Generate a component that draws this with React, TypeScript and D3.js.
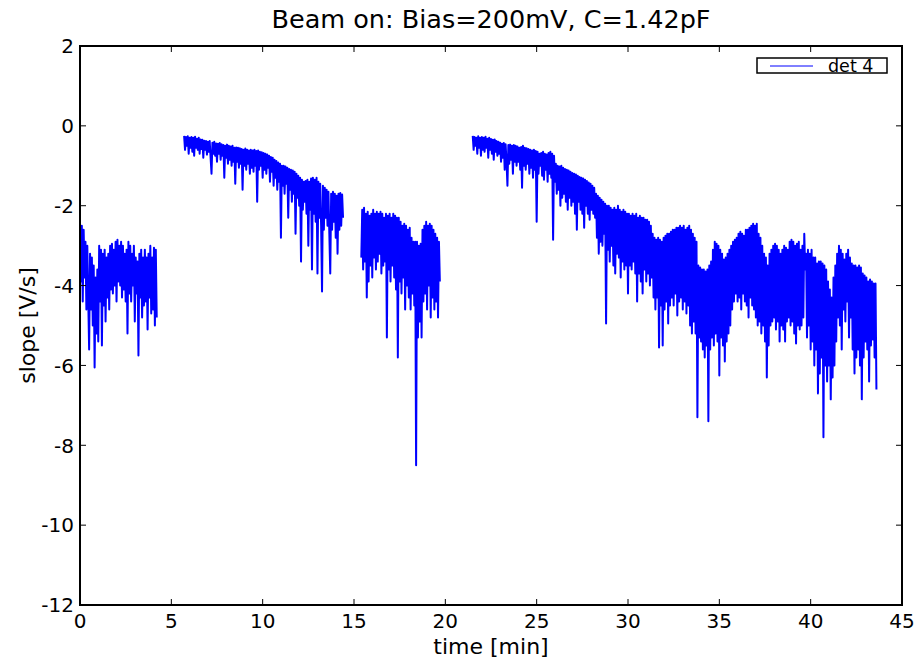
import React from "react";
import * as d3 from "d3";

const TITLE = "Beam on: Bias=200mV, C=1.42pF";
const X_LABEL = "time [min]";
const Y_LABEL = "slope [V/s]";
const LEGEND_LABEL = "det 4";
const X_TICKS = [0, 5, 10, 15, 20, 25, 30, 35, 40, 45];
const Y_TICKS = [-12, -10, -8, -6, -4, -2, 0, 2];
const SAMPLE_STEP = 0.05; // minutes between samples

// start time (min) of each recorded run
const SEG_STARTS = [0.0, 5.7, 15.4, 21.5];

const seg1Values = [
  -2.7, -3.9, -2.5, -4.4, -2.6, -3.8, -2.9, -4.6, -3.0, -4.3,
  -5.6, -3.2, -4.6, -3.3, -5.0, -3.5, -6.05, -3.8, -5.2, -3.6,
  -5.4, -3.0, -4.4, -3.1, -5.5, -3.2, -4.5, -3.1, -4.9, -3.3,
  -4.3, -3.2, -4.6, -3.0, -4.1, -2.95, -4.2, -3.1, -4.0, -2.9,
  -4.4, -2.85, -3.9, -3.0, -4.0, -2.9, -4.3, -3.0, -4.1, -3.2,
  -4.4, -3.1, -5.2, -2.9, -4.2, -3.0, -4.4, -3.2, -4.0, -3.0,
  -4.9, -3.3, -4.2, -3.4, -5.75, -3.2, -4.3, -3.1, -4.8, -3.3,
  -4.5, -3.1, -4.4, -3.3, -5.1, -3.2, -4.3, -3.0, -4.7, -3.3,
  -4.6, -3.05, -5.0, -3.1, -4.8,
];

const seg2Values = [
  -0.25, -0.6, -0.28, -0.5, -0.26, -0.7, -0.3, -0.55, -0.28, -0.65,
  -0.3, -0.75, -0.27, -0.55, -0.32, -0.6, -0.3, -0.7, -0.34, -0.58,
  -0.35, -0.8, -0.37, -0.6, -0.38, -0.72, -0.4, -0.65, -0.38, -0.8,
  -1.2, -0.42, -0.7, -0.4, -0.75, -0.44, -0.9, -0.45, -0.7, -0.43,
  -0.85, -0.46, -0.75, -0.48, -1.3, -0.5, -0.8, -0.47, -0.95, -0.5,
  -0.85, -0.52, -1.0, -0.5, -0.9, -0.55, -1.45, -0.54, -0.9, -0.55,
  -1.05, -0.56, -0.95, -0.58, -1.6, -0.6, -1.0, -0.57, -1.1, -0.6,
  -0.95, -0.62, -1.2, -0.6, -1.05, -0.62, -1.15, -0.6, -1.0, -0.63,
  -1.9, -0.62, -1.1, -0.65, -1.0, -0.66, -1.3, -0.68, -1.1, -0.7,
  -1.2, -0.72, -1.05, -0.75, -1.4, -0.78, -1.15, -0.8, -1.5, -0.85,
  -1.3, -0.88, -1.6, -0.92, -1.4, -0.95, -2.8, -1.0, -1.5, -1.0,
  -1.7, -1.02, -1.45, -1.05, -2.3, -1.08, -1.6, -1.1, -1.9, -1.12,
  -1.7, -1.15, -2.7, -1.2, -1.8, -1.25, -2.0, -1.3, -3.4, -1.35,
  -2.1, -1.4, -1.9, -1.38, -2.2, -1.35, -3.0, -1.4, -2.1, -1.32,
  -3.6, -1.3, -2.2, -1.35, -2.4, -1.3, -3.7, -1.4, -2.3, -1.45,
  -2.5, -4.15, -1.5, -2.6, -1.55, -2.3, -1.6, -2.5, -1.65, -2.7,
  -3.7, -1.7, -2.6, -1.65, -2.4, -1.7, -2.8, -1.75, -3.2, -1.7,
  -2.6, -1.68, -2.5, -1.72, -2.3,
];

const seg3Values = [
  -3.3, -2.1, -3.6, -2.05, -3.4, -2.2, -4.3, -2.15, -3.9, -2.25,
  -3.5, -2.2, -3.8, -2.1, -3.3, -2.2, -3.6, -2.15, -3.4, -2.2,
  -3.2, -2.15, -3.7, -2.2, -3.5, -2.3, -3.4, -2.2, -5.3, -2.25,
  -3.6, -2.2, -3.9, -2.3, -3.5, -2.2, -3.8, -2.25, -4.1, -2.3,
  -5.8, -2.3, -3.9, -2.4, -4.2, -2.5, -3.8, -2.45, -4.6, -2.5,
  -4.0, -2.6, -4.3, -2.55, -4.6, -2.8, -4.2, -2.9, -4.5, -2.9,
  -8.5, -2.9, -5.3, -3.0, -4.9, -2.95, -5.3, -2.6, -4.4, -2.5,
  -4.2, -2.4, -4.6, -2.5, -4.0, -2.45, -4.8, -2.5, -4.3, -2.6,
  -4.6, -2.7, -4.4, -2.8, -4.8, -2.9, -3.9,
];

const seg4Values = [
  -0.25, -0.6, -0.28, -0.5, -0.3, -0.7, -0.26, -0.55, -0.3, -0.75,
  -0.28, -0.6, -0.3, -0.65, -0.27, -0.55, -0.32, -0.8, -0.3, -0.6,
  -0.33, -0.7, -0.35, -0.85, -0.34, -0.65, -0.38, -0.75, -0.4, -0.7,
  -0.42, -0.9, -0.45, -0.8, -0.43, -1.1, -0.46, -0.9, -1.5, -0.48,
  -0.95, -0.47, -0.85, -0.5, -1.2, -0.48, -0.9, -0.5, -1.0, -0.52,
  -0.9, -0.55, -1.1, -0.53, -1.55, -0.5, -1.0, -0.55, -1.1, -0.56,
  -0.95, -0.58, -1.2, -0.6, -1.05, -0.62, -1.3, -0.6, -1.1, -0.63,
  -2.4, -0.65, -1.2, -0.7, -1.0, -0.68, -1.25, -0.65, -1.35, -0.7,
  -1.1, -0.72, -1.4, -0.68, -1.2, -0.65, -1.3, -0.7, -2.85, -0.75,
  -1.4, -0.95, -1.7, -1.0, -1.6, -1.02, -2.0, -1.0, -1.8, -1.05,
  -1.7, -1.08, -1.9, -1.1, -2.1, -1.12, -1.8, -1.15, -2.0, -1.18,
  -1.9, -1.2, -2.2, -1.22, -2.6, -1.25, -1.9, -1.28, -2.1, -1.3,
  -2.2, -1.32, -2.55, -1.35, -2.0, -1.38, -2.2, -1.42, -2.35, -1.45,
  -2.1, -1.5, -2.2, -1.55, -2.3, -1.7, -2.8, -1.75, -3.2, -1.8,
  -2.9, -1.85, -3.0, -1.9, -2.7, -1.95, -4.95, -2.0, -3.1, -2.0,
  -3.4, -2.05, -3.0, -2.1, -3.5, -2.05, -3.7, -2.1, -3.2, -2.0,
  -3.3, -2.1, -3.8, -2.15, -3.4, -2.1, -3.6, -2.15, -3.5, -2.2,
  -4.2, -2.2, -3.5, -2.25, -3.6, -2.2, -3.4, -2.25, -3.7, -2.2,
  -4.4, -2.3, -3.7, -2.25, -3.9, -2.3, -4.2, -2.3, -3.6, -2.35,
  -3.9, -2.35, -3.7, -2.4, -4.0, -2.5, -3.8, -2.7, -4.3, -2.8,
  -4.6, -2.85, -4.3, -2.8, -5.55, -2.85, -4.5, -2.9, -5.5, -2.8,
  -4.6, -2.75, -4.4, -2.7, -4.95, -2.7, -4.5, -2.65, -4.3, -2.6,
  -4.5, -2.6, -4.2, -2.55, -4.75, -2.55, -4.4, -2.5, -4.3, -2.55,
  -4.6, -2.5, -4.4, -2.6, -4.7, -2.55, -4.5, -2.5, -5.0, -2.6,
  -5.2, -2.7, -4.9, -2.8, -5.2, -2.9, -7.3, -3.5, -5.3, -3.55,
  -5.4, -3.6, -5.6, -3.6, -5.8, -3.65, -5.5, -3.6, -7.4, -3.5,
  -5.6, -3.4, -5.3, -3.1, -5.5, -2.9, -5.2, -2.95, -5.4, -3.0,
  -6.25, -3.1, -5.3, -3.2, -5.5, -3.35, -5.9, -3.3, -5.4, -3.2,
  -5.2, -3.1, -5.0, -3.0, -4.6, -2.9, -4.4, -2.85, -4.2, -2.8,
  -4.4, -2.7, -4.3, -2.65, -4.6, -2.7, -4.2, -2.75, -4.4, -2.6,
  -4.5, -2.6, -4.8, -2.55, -4.3, -2.5, -4.5, -2.45, -4.6, -2.5,
  -4.8, -2.45, -5.0, -2.7, -4.9, -2.8, -5.2, -3.0, -5.0, -3.2,
  -5.4, -3.3, -6.3, -3.5, -5.5, -3.2, -5.0, -3.1, -4.9, -3.0,
  -4.8, -2.95, -5.1, -3.0, -4.9, -3.1, -5.4, -3.2, -5.0, -3.1,
  -5.1, -3.0, -5.4, -3.05, -4.9, -3.1, -4.8, -2.9, -5.0, -2.85,
  -4.9, -2.9, -5.2, -3.0, -5.45, -2.95, -5.0, -2.9, -5.1, -3.1,
  -5.0, -3.0, -4.8, -2.7, -3.6, -3.2, -5.3, -3.1, -5.0, -3.2,
  -5.6, -3.1, -5.4, -3.3, -6.0, -3.3, -5.6, -3.45, -6.7, -3.4,
  -6.2, -3.4, -5.8, -3.45, -7.8, -3.5, -6.0, -3.6, -6.4, -3.9,
  -6.0, -4.1, -6.85, -4.3, -6.3, -3.8, -6.0, -3.5, -5.4, -3.2,
  -4.8, -3.0, -5.0, -3.1, -5.6, -3.2, -4.6, -3.35, -4.9, -3.2,
  -4.4, -3.1, -5.3, -3.3, -4.8, -3.45, -5.6, -3.5, -6.2, -3.5,
  -5.8, -3.55, -5.6, -3.5, -6.0, -3.55, -6.85, -3.7, -5.8, -3.75,
  -5.4, -3.8, -5.6, -3.9, -6.4, -3.85, -5.5, -3.9, -5.35, -3.95,
  -5.8, -3.95, -6.6,
];

const SEGMENTS = [seg1Values, seg2Values, seg3Values, seg4Values];

const W = 921;
const H = 662;
const LEFT = 80;
const RIGHT = 902;
const TOP = 46;
const BOTTOM = 605;
const FONT = "'DejaVu Sans', sans-serif";
const BLUE = "#0000ff";

export default function App() {
  const x = d3.scaleLinear().domain([0, 45]).range([LEFT, RIGHT]);
  const y = d3.scaleLinear().domain([-12, 2]).range([BOTTOM, TOP]);

  const line = d3
    .line<[number, number]>()
    .x((d) => x(d[0]))
    .y((d) => y(d[1]));

  const paths = SEGMENTS.map((vals, s) =>
    line(vals.map((v, i) => [SEG_STARTS[s] + i * SAMPLE_STEP, v] as [number, number]))
  );

  const tickLen = 6;

  return (
    <svg
      width={W}
      height={H}
      style={{ position: "absolute", left: 0, top: 0, background: "#fff" }}
      fontFamily={FONT}
    >
      <rect x={0} y={0} width={W} height={H} fill="#fff" />
      <defs>
        <clipPath id="plotclip">
          <rect x={LEFT} y={TOP} width={RIGHT - LEFT} height={BOTTOM - TOP} />
        </clipPath>
      </defs>

      <g clipPath="url(#plotclip)">
        {paths.map((p, i) => (
          <path key={i} d={p || ""} fill="none" stroke={BLUE} strokeWidth={2} strokeLinejoin="round" />
        ))}
      </g>

      {X_TICKS.map((t) => (
        <g key={"xt" + t}>
          <line x1={x(t)} x2={x(t)} y1={BOTTOM} y2={BOTTOM - tickLen} stroke="#000" strokeWidth={1} />
          <line x1={x(t)} x2={x(t)} y1={TOP} y2={TOP + tickLen} stroke="#000" strokeWidth={1} />
          <text x={x(t)} y={628} fontSize={20} textAnchor="middle" fill="#000">
            {t}
          </text>
        </g>
      ))}
      {Y_TICKS.map((t) => (
        <g key={"yt" + t}>
          <line x1={LEFT} x2={LEFT + tickLen} y1={y(t)} y2={y(t)} stroke="#000" strokeWidth={1} />
          <line x1={RIGHT} x2={RIGHT - tickLen} y1={y(t)} y2={y(t)} stroke="#000" strokeWidth={1} />
          <text x={74} y={y(t) + 7.3} fontSize={20} textAnchor="end" fill="#000">
            {t}
          </text>
        </g>
      ))}

      <rect
        x={LEFT}
        y={TOP}
        width={RIGHT - LEFT}
        height={BOTTOM - TOP}
        fill="none"
        stroke="#000"
        strokeWidth={2}
      />

      <text x={(LEFT + RIGHT) / 2} y={27.5} fontSize={25.5} textAnchor="middle" fill="#000">
        {TITLE}
      </text>
      <text x={(LEFT + RIGHT) / 2} y={654} fontSize={22} textAnchor="middle" fill="#000">
        {X_LABEL}
      </text>
      <text
        transform={`translate(35, ${(TOP + BOTTOM) / 2}) rotate(-90)`}
        fontSize={22}
        textAnchor="middle"
        fill="#000"
      >
        {Y_LABEL}
      </text>

      <rect x={757} y={58} width={130} height={15} fill="#fff" stroke="#000" strokeWidth={1.5} />
      <line x1={770} x2={813} y1={66} y2={66} stroke={BLUE} strokeWidth={1} />
      <text x={828} y={72.3} fontSize={17.5} fill="#000">
        {LEGEND_LABEL}
      </text>
    </svg>
  );
}
